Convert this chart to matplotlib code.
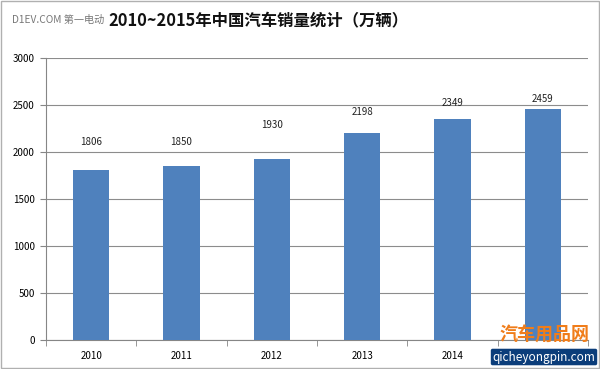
import matplotlib.pyplot as plt
from matplotlib.patches import Rectangle

plt.rcParams['font.family'] = ['Noto Sans CJK SC', 'DejaVu Sans']

years = ['2010', '2011', '2012', '2013', '2014', '2015']
sales = [1806, 1850, 1930, 2198, 2349, 2459]
# label heights in the original sit at uneven gaps above the bars
label_gap = [300, 260, 360, 230, 170, 105]


def main():
    fig = plt.figure(figsize=(6, 3.69), dpi=100)
    fig.patches.append(Rectangle((0.002, 0.003), 0.996, 0.994, transform=fig.transFigure,
                                 fill=False, edgecolor='#b0b0b0', linewidth=1))

    ax = fig.add_axes([46 / 600, 29 / 369, 542 / 600, 282 / 369])
    x = range(len(years))
    ax.bar(x, sales, width=0.4, color='#4f81bd', zorder=3)
    for i, v in enumerate(sales):
        ax.text(i, v + label_gap[i], str(v), ha='center', va='center', fontsize=7, color='#222222')

    ax.set_xlim(-0.5, len(years) - 0.5)
    ax.set_ylim(0, 3000)
    ax.set_yticks(range(0, 3001, 500))
    ax.set_xticks(list(x))
    # the last year label is hidden under the watermark in the original
    ax.set_xticklabels(years[:-1] + [''], fontsize=7)
    ax.set_xticks([i - 0.5 for i in range(len(years) + 1)], minor=True)
    ax.tick_params(axis='x', which='major', length=0, pad=8)
    ax.tick_params(axis='x', which='minor', length=4, color='#868686', direction='out')
    ax.tick_params(axis='y', labelsize=7, length=4, color='#868686', pad=4)
    ax.grid(axis='y', color='#8c8c8c', linewidth=0.8, zorder=0)
    for s in ['top', 'right']:
        ax.spines[s].set_visible(False)
    for s in ['left', 'bottom']:
        ax.spines[s].set_color('#868686')
        ax.spines[s].set_linewidth(0.8)

    fig.text(12 / 600, 1 - 20 / 369, 'D1EV.COM 第一电动', fontsize=7.3, color='#777777', va='center')
    fig.text(258 / 600, 1 - 21 / 369, '2010~2015年中国汽车销量统计（万辆）', fontsize=11.8,
             fontweight='bold', ha='center', va='center', color='#111111')

    # watermark in the lower right corner
    fig.text(544 / 600, 1 - 335 / 369, '汽车用品网', fontsize=13, fontweight='bold',
             color='#f07d1a', ha='center', va='center', zorder=10)
    fig.text(544 / 600, 1 - 357 / 369, 'qicheyongpin.com', fontsize=8.5, color='white',
             ha='center', va='center', zorder=10,
             bbox=dict(boxstyle='round,pad=0.15', facecolor='#0b3d7a', edgecolor='none'))

    plt.savefig('out.png', dpi=100)


if __name__ == "__main__":
    main()
